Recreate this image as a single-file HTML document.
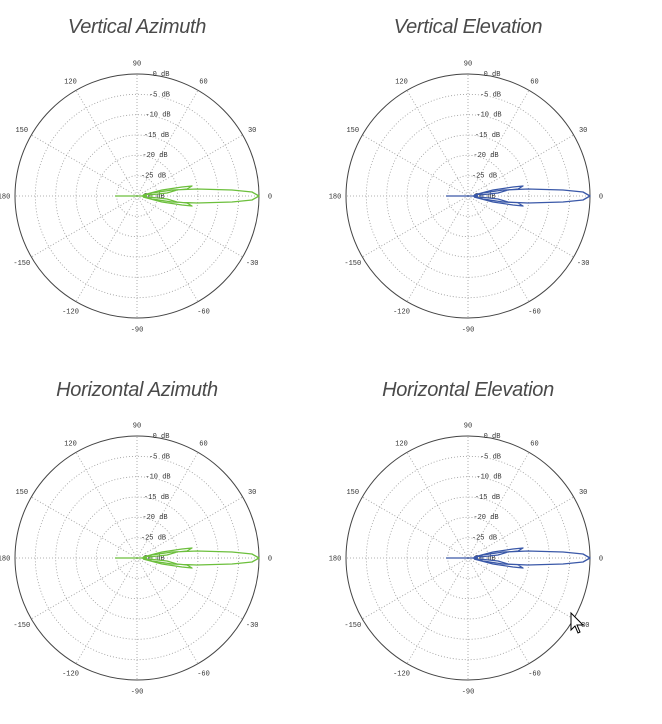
<!DOCTYPE html>
<html><head><meta charset="utf-8"><style>
body{margin:0;background:#fff;width:662px;height:724px;overflow:hidden;font-family:"Liberation Sans",sans-serif}
.t{position:absolute;font-style:italic;font-size:20px;color:#4a4a4a;width:300px;text-align:center;letter-spacing:-0.3px}
svg{position:absolute;left:0;top:0}
</style></head><body>
<div class="t" style="left:-13px;top:16px">Vertical Azimuth</div>
<div class="t" style="left:318px;top:16px">Vertical Elevation</div>
<div class="t" style="left:-13px;top:379px">Horizontal Azimuth</div>
<div class="t" style="left:318px;top:379px">Horizontal Elevation</div>
<svg id="s" width="662" height="724" xmlns="http://www.w3.org/2000/svg"></svg>
<script>
var s=document.getElementById('s'),h='';
function plot(cx,cy,col){
 var R=122;
 for(var i=1;i<=5;i++){h+='<circle cx="'+cx+'" cy="'+cy+'" r="'+(R*i/6).toFixed(1)+'" fill="none" stroke="#999" stroke-width="0.8" stroke-dasharray="1,2"/>';}
 for(var a=0;a<360;a+=30){var r=a*Math.PI/180;h+='<line x1="'+cx+'" y1="'+cy+'" x2="'+(cx+R*Math.cos(r)).toFixed(1)+'" y2="'+(cy-R*Math.sin(r)).toFixed(1)+'" stroke="#999" stroke-width="0.8" stroke-dasharray="1,2"/>';}
 h+='<circle cx="'+cx+'" cy="'+cy+'" r="'+R+'" fill="none" stroke="#444" stroke-width="1"/>';
 var labs=[[0,'0'],[30,'30'],[60,'60'],[90,'90'],[120,'120'],[150,'150'],[180,'180'],[-30,'-30'],[-60,'-60'],[-90,'-90'],[-120,'-120'],[-150,'-150']];
 labs.forEach(function(l){var r=l[0]*Math.PI/180,x=cx+133*Math.cos(r),y=cy-133*Math.sin(r);h+='<text x="'+x.toFixed(1)+'" y="'+(y+2.5).toFixed(1)+'" font-size="7" fill="#333" text-anchor="middle" font-family="Liberation Mono,monospace">'+l[1]+'</text>';});
 ['0','-5','-10','-15','-20','-25','-30'].forEach(function(d,i){h+='<text x="'+(cx+24-i*1.5)+'" y="'+(cy-R+i*20.3+2)+'" font-size="7" fill="#333" text-anchor="middle" font-family="Liberation Mono,monospace">'+d+' dB</text>';});
 function P(pts){return pts.map(function(p,i){return (i?'L':'M')+(cx+p[0])+' '+(cy+p[1]);}).join(' ');}
 var d=P([[5,0],[15,-3],[35,-6],[60,-7],[95,-6],[115,-4],[122,0],[115,4],[95,6],[60,7],[35,6],[15,3],[5,0]])+
 ' '+P([[6,-1],[25,-6],[45,-9],[55,-10],[50,-7],[40,-6],[30,-3],[12,-1]])+
 ' '+P([[6,1],[25,6],[45,9],[55,10],[50,7],[40,6],[30,3],[12,1]])+
 ' '+P([[-22,0],[10,0]]);
 h+='<path d="'+d+'" fill="none" stroke="'+col+'" stroke-width="1.3" stroke-linejoin="round"/>';
}
plot(137,196,'#6cbf3c');plot(468,196,'#3a58a8');plot(137,558,'#6cbf3c');plot(468,558,'#3a58a8');
h+='<path d="M571 613 L571 630 L575 626 L578 633 L580 632 L577 625 L583 625 Z" fill="#fff" stroke="#000" stroke-width="1"/>';
s.innerHTML=h;
</script>
</body></html>
